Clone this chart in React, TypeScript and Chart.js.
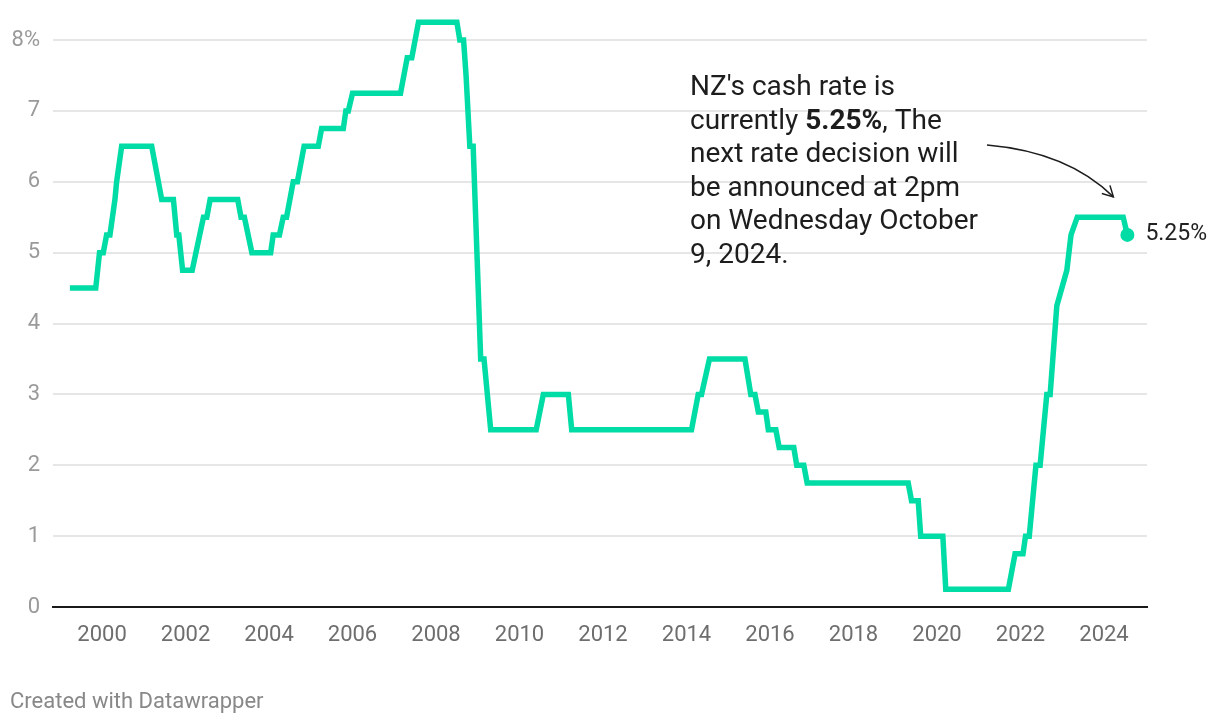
import React, { useEffect, useRef } from "react";
import { Chart, registerables } from "chart.js";

Chart.register(...registerables);

// Decimal-year positions of the line's vertices
const dates = [
  1999.23, 1999.85, 1999.94, 2000.03, 2000.11, 2000.19, 2000.31, 2000.35, 2000.47,
  2001.19, 2001.43, 2001.71, 2001.79, 2001.84, 2001.93, 2002.16, 2002.43, 2002.51,
  2002.59, 2003.25, 2003.33, 2003.41, 2003.59, 2004.04, 2004.10, 2004.25, 2004.34,
  2004.42, 2004.58, 2004.68, 2004.84, 2005.18, 2005.26, 2005.78, 2005.84, 2005.90,
  2006.00, 2007.15, 2007.31, 2007.42, 2007.58, 2008.50, 2008.57, 2008.66, 2008.72,
  2008.81, 2008.89, 2009.07, 2009.15, 2009.31, 2010.40, 2010.57, 2011.17, 2011.25,
  2014.12, 2014.28, 2014.36, 2014.55, 2015.40, 2015.54, 2015.64, 2015.72, 2015.90,
  2015.96, 2016.14, 2016.22, 2016.57, 2016.64, 2016.81, 2016.89, 2019.31, 2019.39,
  2019.55, 2019.61, 2020.14, 2020.21, 2021.71, 2021.87, 2022.06, 2022.12, 2022.21,
  2022.37, 2022.47, 2022.63, 2022.71, 2022.87, 2023.11, 2023.21, 2023.36, 2024.46,
  2024.56,
];

// Official cash rate (%) at each vertex
const rates = [
  4.5, 4.5, 5.0, 5.0, 5.25, 5.25, 5.75, 6.0, 6.5,
  6.5, 5.75, 5.75, 5.25, 5.25, 4.75, 4.75, 5.5, 5.5,
  5.75, 5.75, 5.5, 5.5, 5.0, 5.0, 5.25, 5.25, 5.5,
  5.5, 6.0, 6.0, 6.5, 6.5, 6.75, 6.75, 7.0, 7.0,
  7.25, 7.25, 7.75, 7.75, 8.25, 8.25, 8.0, 8.0, 7.5,
  6.5, 6.5, 3.5, 3.5, 2.5, 2.5, 3.0, 3.0, 2.5,
  2.5, 3.0, 3.0, 3.5, 3.5, 3.0, 3.0, 2.75, 2.75,
  2.5, 2.5, 2.25, 2.25, 2.0, 2.0, 1.75, 1.75, 1.5,
  1.5, 1.0, 1.0, 0.25, 0.25, 0.75, 0.75, 1.0, 1.0,
  2.0, 2.0, 3.0, 3.0, 4.25, 4.75, 5.25, 5.5, 5.5,
  5.25,
];

const xTickYears = [2000, 2002, 2004, 2006, 2008, 2010, 2012, 2014, 2016, 2018, 2020, 2022, 2024];
const yTickValues = [0, 1, 2, 3, 4, 5, 6, 7, 8];

const annotationLines: { text: string; bold?: boolean }[][] = [
  [{ text: "NZ's cash rate is" }],
  [{ text: "currently " }, { text: "5.25%", bold: true }, { text: ", The" }],
  [{ text: "next rate decision will" }],
  [{ text: "be announced at 2pm" }],
  [{ text: "on Wednesday October" }],
  [{ text: "9, 2024." }],
];
const endLabel = "5.25%";
const footerText = "Created with Datawrapper";

const LINE_COLOR = "#00dca5";
const FONT = "Roboto, 'Noto Sans', sans-serif";

export default function App() {
  const ref = useRef<HTMLCanvasElement>(null);

  useEffect(() => {
    const canvas = ref.current;
    if (!canvas) return;
    const points = dates.map((d, i) => ({ x: d, y: rates[i] }));
    const last = points.length - 1;

    const annotationPlugin = {
      id: "annotations",
      afterDraw(chart: any) {
        const ctx = chart.ctx as CanvasRenderingContext2D;
        const meta = chart.getDatasetMeta(0);
        const endPt = meta.data[last];
        ctx.save();

        // end value label
        ctx.fillStyle = "#222222";
        ctx.font = `23px ${FONT}`;
        ctx.textAlign = "left";
        ctx.textBaseline = "middle";
        ctx.fillText(endLabel, endPt.x + 18, endPt.y - 1);

        // annotation text
        ctx.fillStyle = "#1d1d1d";
        ctx.textBaseline = "alphabetic";
        const tx = 690;
        let ty = 95;
        for (const line of annotationLines) {
          let x = tx;
          for (const seg of line) {
            ctx.font = `${seg.bold ? "bold " : ""}28px ${FONT}`;
            ctx.fillText(seg.text, x, ty);
            x += ctx.measureText(seg.text).width;
          }
          ty += 33.5;
        }

        // curved arrow
        const sx = 987, sy = 145;
        const cx = 1068, cy = 152;
        const ex = endPt.x - 14, ey = endPt.y - 38;
        ctx.strokeStyle = "#1d1d1d";
        ctx.lineWidth = 1.5;
        ctx.beginPath();
        ctx.moveTo(sx, sy);
        ctx.quadraticCurveTo(cx, cy, ex, ey);
        ctx.stroke();
        const ang = Math.atan2(ey - cy, ex - cx);
        const hl = 12;
        ctx.beginPath();
        ctx.moveTo(ex + hl * Math.cos(ang + Math.PI - 0.5), ey + hl * Math.sin(ang + Math.PI - 0.5));
        ctx.lineTo(ex, ey);
        ctx.lineTo(ex + hl * Math.cos(ang + Math.PI + 0.5), ey + hl * Math.sin(ang + Math.PI + 0.5));
        ctx.stroke();

        // footer
        ctx.fillStyle = "#888888";
        ctx.font = `22px ${FONT}`;
        ctx.textBaseline = "alphabetic";
        ctx.fillText(footerText, 10, 708);
        ctx.restore();
      },
    };

    const chart = new Chart(canvas, {
      type: "line",
      data: {
        datasets: [
          {
            data: points,
            borderColor: LINE_COLOR,
            backgroundColor: LINE_COLOR,
            borderWidth: 5.5,
            tension: 0,
            clip: false as any,
            pointRadius: (c: any) => (c.dataIndex === last ? 7 : 0),
            pointHoverRadius: 0,
            pointBorderWidth: 0,
            pointBackgroundColor: LINE_COLOR,
          },
        ],
      },
      options: {
        responsive: false,
        animation: false,
        events: [],
        layout: { padding: { top: 40, right: 73, left: 0, bottom: 0 } },
        plugins: { legend: { display: false }, tooltip: { enabled: false } },
        scales: {
          x: {
            type: "linear",
            min: 1998.826,
            max: 2025.03,
            afterBuildTicks: (s: any) => {
              s.ticks = xTickYears.map((v) => ({ value: v }));
            },
            afterFit: (s: any) => {
              s.height = 117;
            },
            ticks: {
              callback: (v: any) => String(v),
              font: { family: FONT, size: 22 },
              color: "#6e6e6e",
              padding: 15,
              maxRotation: 0,
              autoSkip: false,
            },
            grid: { display: false, drawTicks: false },
            border: { display: true, color: "#1a1a1a", width: 2 },
          },
          y: {
            min: 0,
            max: 8,
            afterBuildTicks: (s: any) => {
              s.ticks = yTickValues.map((v) => ({ value: v }));
            },
            afterFit: (s: any) => {
              s.width = 53;
            },
            ticks: {
              callback: (v: any) => (v === 8 ? "8%" : String(v)),
              font: { family: FONT, size: 22 },
              color: "#9a9a9a",
              padding: 13,
            },
            grid: {
              color: (c: any) => (c.tick && c.tick.value === 0 ? "rgba(0,0,0,0)" : "#e6e6e6"),
              lineWidth: 2,
              drawTicks: false,
            },
            border: { display: false },
          },
        },
      },
      plugins: [annotationPlugin],
    } as any);

    return () => chart.destroy();
  }, []);

  return (
    <div style={{ position: "fixed", left: 0, top: 0, width: 1220, height: 724, background: "#ffffff" }}>
      <canvas ref={ref} width={1220} height={724} style={{ display: "block" }} />
    </div>
  );
}
